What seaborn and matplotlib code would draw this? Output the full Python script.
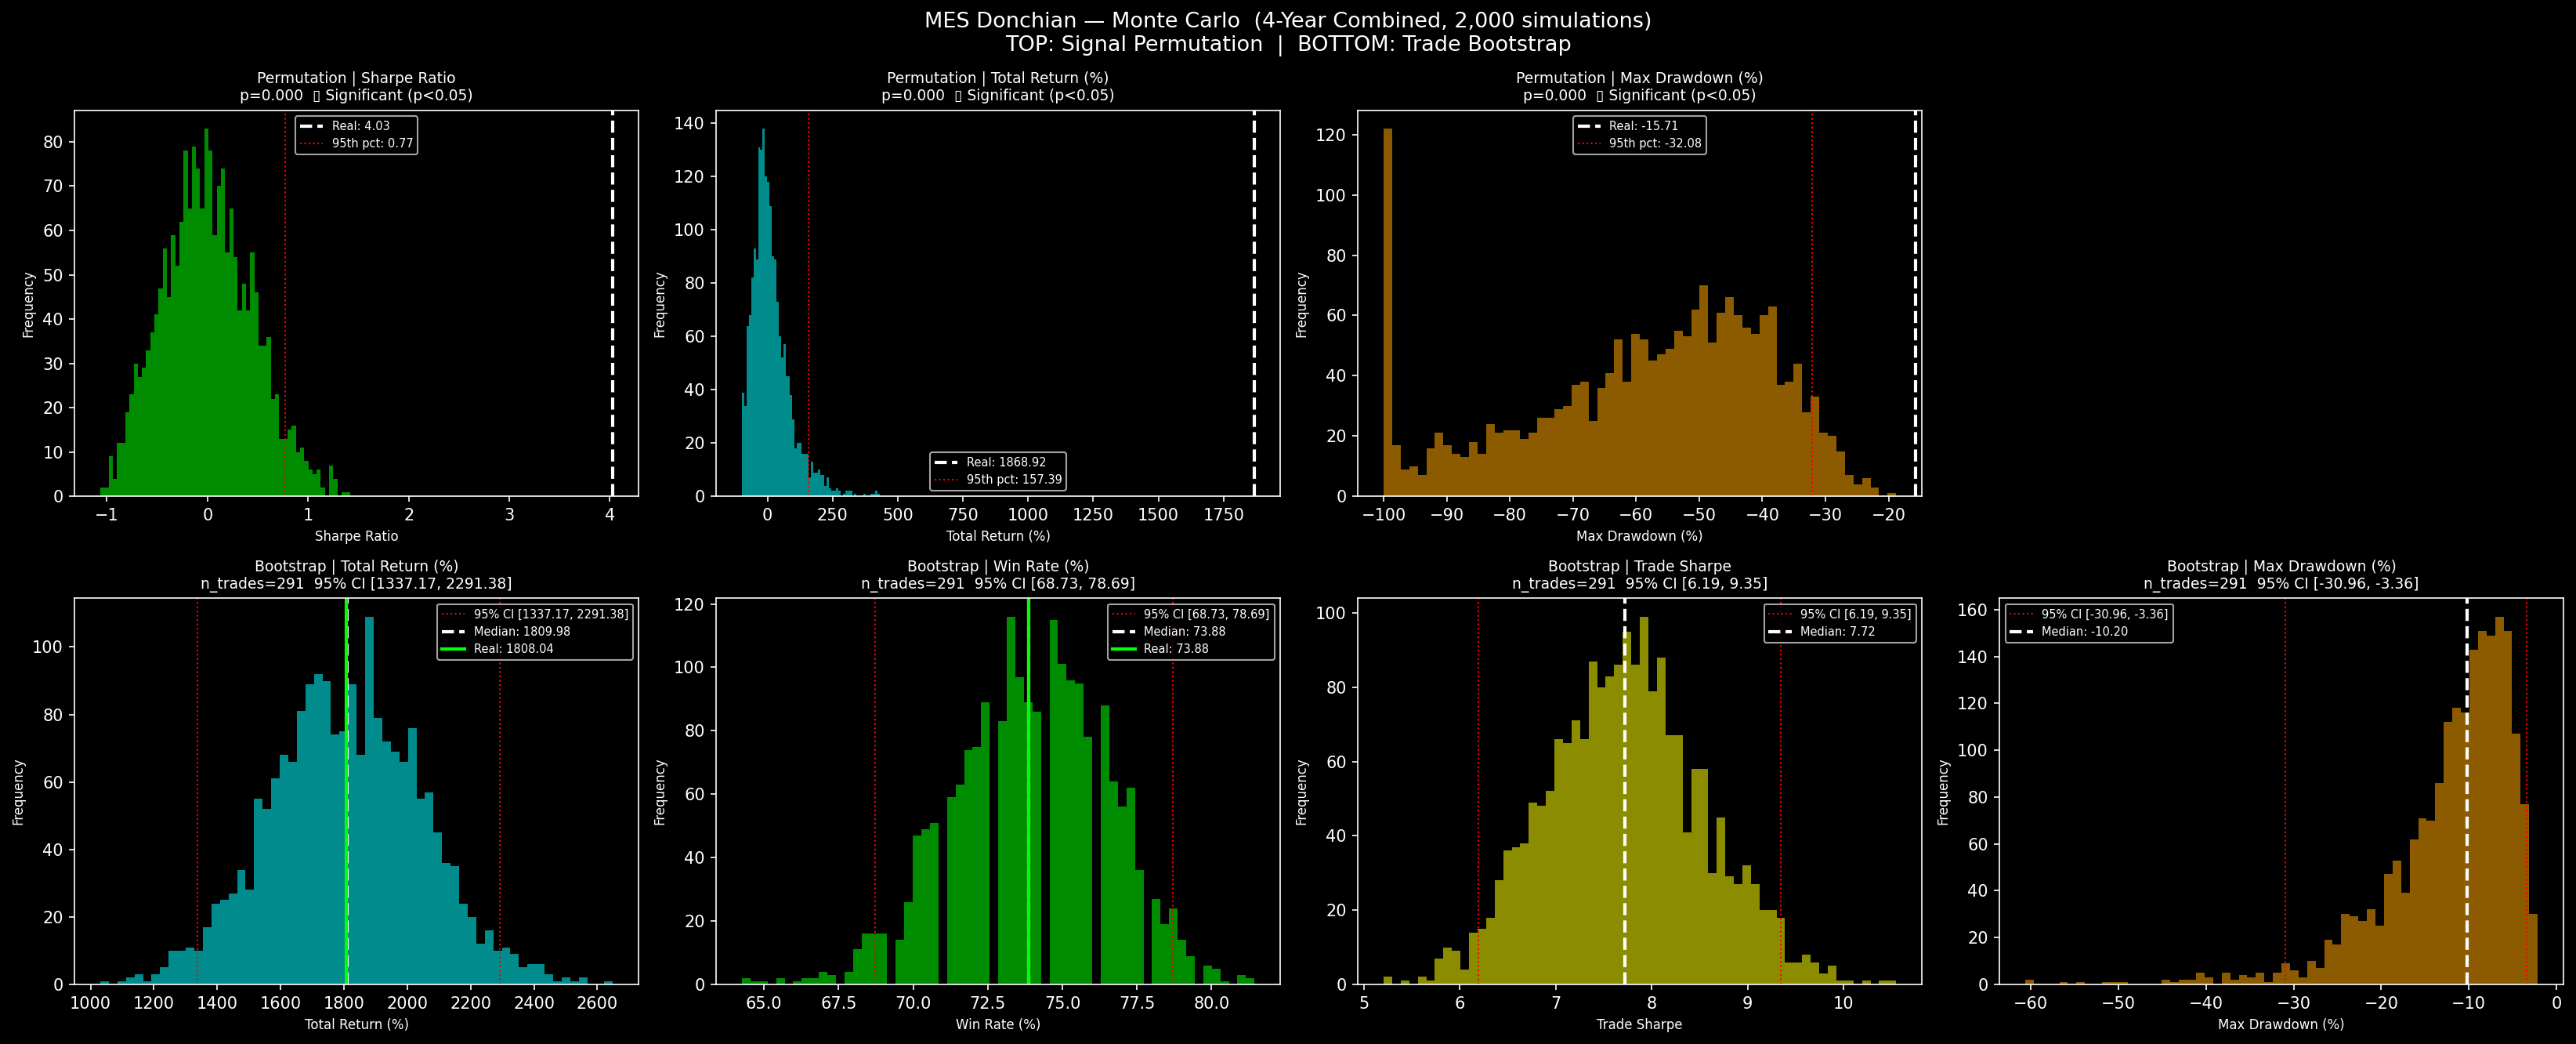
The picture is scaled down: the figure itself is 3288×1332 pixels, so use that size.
# Monte Carlo check of the MES Donchian system: signal permutation (top) and trade bootstrap (bottom).
import matplotlib

matplotlib.use("Agg")
import matplotlib.pyplot as plt
import numpy as np
import pandas as pd
import seaborn as sns

# histogram counts (60 bins each), plus the bin range (first edge, last edge)
sharpe_perm_counts = [2, 2, 9, 4, 12, 12, 19, 23, 30, 27, 29, 33, 37, 41, 47, 56, 45, 59, 52, 62,
                      78, 65, 79, 74, 65, 83, 78, 59, 70, 74, 55, 65, 54, 42, 48, 42, 55, 46, 34, 34,
                      36, 22, 23, 13, 13, 15, 16, 10, 11, 8, 6, 5, 6, 2, 0, 7, 4, 0, 1, 1]
sharpe_perm_range = (-1.065, 1.416)

ret_perm_counts = [39, 34, 64, 68, 82, 93, 89, 131, 130, 138, 120, 118, 109, 90, 89, 73, 60, 52, 57, 45,
                   45, 38, 29, 18, 20, 20, 16, 16, 16, 7, 13, 9, 9, 10, 8, 8, 4, 7, 3, 2,
                   2, 3, 2, 0, 1, 2, 2, 2, 0, 1, 0, 0, 0, 1, 0, 0, 1, 1, 2, 1]
ret_perm_range = (-98.0, 430.0)

dd_perm_counts = [122, 17, 9, 10, 7, 16, 21, 17, 14, 13, 18, 14, 24, 21, 22, 22, 19, 21, 26, 26,
                  29, 30, 37, 38, 25, 36, 41, 52, 38, 54, 52, 45, 47, 49, 55, 53, 62, 70, 51, 61,
                  66, 60, 56, 54, 60, 63, 37, 38, 44, 28, 33, 21, 20, 15, 7, 4, 6, 3, 0, 1]
dd_perm_range = (-100.0, -18.8)

ret_boot_counts = [1, 0, 1, 2, 3, 1, 3, 5, 10, 10, 11, 10, 17, 24, 25, 27, 34, 28, 55, 52,
                   61, 68, 66, 81, 89, 92, 90, 74, 75, 89, 68, 109, 79, 72, 69, 66, 76, 55, 57, 45,
                   36, 35, 24, 20, 12, 16, 10, 11, 9, 5, 6, 6, 3, 1, 2, 1, 2, 0, 0, 1]
ret_boot_range = (1031.0, 2649.0)

win_boot_counts = [2, 1, 1, 0, 2, 0, 1, 2, 2, 4, 3, 0, 4, 11, 16, 16, 16, 0, 14, 26,
                   47, 49, 51, 0, 59, 63, 74, 75, 89, 0, 83, 116, 97, 89, 86, 0, 115, 101, 96, 95,
                   78, 0, 88, 64, 56, 62, 36, 0, 27, 19, 24, 14, 9, 0, 6, 5, 1, 0, 3, 2]
win_boot_range = (64.26, 81.44)

tsharpe_boot_counts = [2, 0, 1, 0, 2, 1, 7, 10, 9, 4, 14, 15, 18, 28, 36, 37, 38, 49, 48, 52,
                       66, 65, 71, 66, 87, 80, 83, 86, 95, 86, 99, 79, 88, 67, 67, 41, 58, 58, 30, 45,
                       29, 27, 32, 27, 20, 20, 18, 6, 6, 8, 6, 3, 5, 1, 1, 0, 1, 0, 1, 1]
tsharpe_boot_range = (5.204, 10.55)

dd_boot_counts = [2, 0, 0, 0, 1, 0, 1, 0, 0, 1, 1, 1, 0, 0, 0, 0, 2, 1, 2, 2,
                  5, 3, 0, 5, 2, 4, 3, 5, 1, 5, 9, 6, 3, 10, 7, 19, 17, 30, 29, 27,
                  32, 25, 47, 53, 39, 62, 71, 70, 86, 112, 118, 116, 143, 151, 149, 157, 151, 107, 77, 30]
dd_boot_range = (-60.66, -2.13)

# reference statistics
perm_names = ["Sharpe Ratio", "Total Return (%)", "Max Drawdown (%)"]
perm_real = [4.03, 1868.92, -15.71]
perm_p95 = [0.77, 157.39, -32.08]
perm_p = [0.000, 0.000, 0.000]

boot_names = ["Total Return (%)", "Win Rate (%)", "Trade Sharpe", "Max Drawdown (%)"]
boot_ci_lo = [1337.17, 68.73, 6.19, -30.96]
boot_ci_hi = [2291.38, 78.69, 9.35, -3.36]
boot_median = [1809.98, 73.88, 7.72, -10.20]
boot_real = [1808.04, 73.88, None, None]
n_trades = 291

# the check-mark emoji has no glyph in any installed font; the reference shows an empty box there
CHECK_BOX = "\u25af"

GREEN, TEAL, AMBER, OLIVE = "#008c00", "#008c8c", "#8c5b00", "#8c8c00"


def draw_hist(ax, counts, rng, color):
    edges = np.linspace(rng[0], rng[1], len(counts) + 1)
    df = pd.DataFrame({"value": (edges[:-1] + edges[1:]) / 2, "count": counts})
    sns.histplot(data=df, x="value", weights="count", bins=list(edges), ax=ax, color=color,
                 alpha=1, linewidth=0, edgecolor="none")


plt.style.use("dark_background")
fig, axes = plt.subplots(2, 4, figsize=(21.92, 8.88), dpi=150)
fig.subplots_adjust(left=0.029, right=0.9951, top=0.8945, bottom=0.0571,
                    wspace=0.138, hspace=0.264)

perm_data = [(sharpe_perm_counts, sharpe_perm_range, GREEN, "upper center"),
             (ret_perm_counts, ret_perm_range, TEAL, "lower center"),
             (dd_perm_counts, dd_perm_range, AMBER, "upper center")]

for i, (counts, rng, color, loc) in enumerate(perm_data):
    ax = axes[0, i]
    draw_hist(ax, counts, rng, color)
    ax.axvline(perm_real[i], color="white", ls="--", lw=2, label=f"Real: {perm_real[i]:.2f}")
    ax.axvline(perm_p95[i], color="red", ls=":", lw=1, label=f"95th pct: {perm_p95[i]:.2f}")
    sig = f"{CHECK_BOX} Significant (p<0.05)" if perm_p[i] < 0.05 else "Not significant"
    ax.set_title(f"Permutation | {perm_names[i]}\np={perm_p[i]:.3f}  {sig}", fontsize=9)
    ax.set_xlabel(perm_names[i], fontsize=8)
    ax.set_ylabel("Frequency", fontsize=8)
    ax.legend(fontsize=7, loc=loc)
axes[0, 3].axis("off")

boot_data = [(ret_boot_counts, ret_boot_range, TEAL, "upper right"),
             (win_boot_counts, win_boot_range, GREEN, "upper right"),
             (tsharpe_boot_counts, tsharpe_boot_range, OLIVE, "upper right"),
             (dd_boot_counts, dd_boot_range, AMBER, "upper left")]

for i, (counts, rng, color, loc) in enumerate(boot_data):
    ax = axes[1, i]
    draw_hist(ax, counts, rng, color)
    lo, hi = boot_ci_lo[i], boot_ci_hi[i]
    ax.axvline(lo, color="red", ls=":", lw=1, label=f"95% CI [{lo:.2f}, {hi:.2f}]")
    ax.axvline(hi, color="red", ls=":", lw=1)
    ax.axvline(boot_median[i], color="white", ls="--", lw=2, label=f"Median: {boot_median[i]:.2f}")
    if boot_real[i] is not None:
        ax.axvline(boot_real[i], color="lime", lw=2, label=f"Real: {boot_real[i]:.2f}")
    ax.set_title(f"Bootstrap | {boot_names[i]}\nn_trades={n_trades}  95% CI [{lo:.2f}, {hi:.2f}]",
                 fontsize=9)
    ax.set_xlabel(boot_names[i], fontsize=8)
    ax.set_ylabel("Frequency", fontsize=8)
    ax.legend(fontsize=7, loc=loc)

fig.suptitle("MES Donchian — Monte Carlo  (4-Year Combined, 2,000 simulations)\n"
             "TOP: Signal Permutation  |  BOTTOM: Trade Bootstrap", fontsize=13, y=0.989)

fig.savefig("out.png", dpi=150)
